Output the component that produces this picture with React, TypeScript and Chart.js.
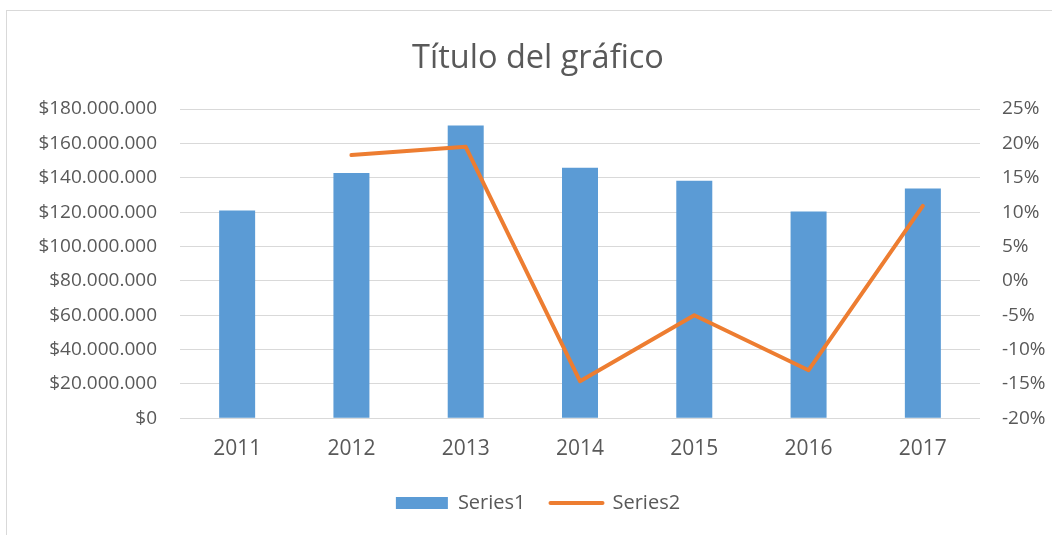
import React, { useEffect, useRef } from "react";
import { Chart, registerables } from "chart.js";

Chart.register(...registerables);

const categories = ["2011", "2012", "2013", "2014", "2015", "2016", "2017"];
const series1 = [121000000, 142700000, 170400000, 145800000, 138200000, 120300000, 133700000];
const series2 = [null, 18.3, 19.5, -14.6, -5.0, -13.0, 10.9];
const seriesNames = ["Series1", "Series2"];
const titleText = "Título del gráfico";

const BLUE = "#5B9BD5";
const ORANGE = "#ED7D31";
const TEXT = "#595959";
const GRID = "#D9D9D9";
const FONT = "'Open Sans', 'Noto Sans', sans-serif";

function money(v: number) {
  return "$" + Math.round(v).toString().replace(/\B(?=(\d{3})+(?!\d))/g, ".");
}

export default function App() {
  const ref = useRef<HTMLCanvasElement | null>(null);
  useEffect(() => {
    if (!ref.current) return;
    const chart = new Chart(ref.current, {
      data: {
        labels: categories,
        datasets: [
          {
            type: "line",
            label: seriesNames[1],
            data: series2,
            yAxisID: "y1",
            borderColor: ORANGE,
            backgroundColor: ORANGE,
            borderWidth: 4,
            pointRadius: 0,
            pointHoverRadius: 0,
            borderCapStyle: "round",
            borderJoinStyle: "round",
            tension: 0,
            spanGaps: false,
            order: 0,
          },
          {
            type: "bar",
            label: seriesNames[0],
            data: series1,
            yAxisID: "y",
            backgroundColor: BLUE,
            borderWidth: 0,
            categoryPercentage: 1,
            barPercentage: 0.315,
            order: 1,
          },
        ],
      } as any,
      options: {
        responsive: false,
        animation: false,
        layout: { padding: { left: 24, right: 0, top: 0, bottom: 0 } },
        plugins: {
          tooltip: { enabled: false },
          title: {
            display: true,
            text: titleText,
            color: TEXT,
            font: { family: FONT, size: 32.5, weight: "normal" },
            padding: { top: 39, bottom: 31 },
          },
          legend: {
            position: "bottom",
            labels: {
              color: TEXT,
              font: { family: FONT, size: 20 },
              usePointStyle: true,
              pointStyleWidth: 52,
              boxHeight: 12,
              padding: 25,
              generateLabels: () => [
                {
                  text: seriesNames[0],
                  fillStyle: BLUE,
                  strokeStyle: BLUE,
                  lineWidth: 0,
                  pointStyle: "rect",
                  fontColor: TEXT,
                  datasetIndex: 1,
                  hidden: false,
                },
                {
                  text: seriesNames[1],
                  fillStyle: ORANGE,
                  strokeStyle: ORANGE,
                  lineWidth: 4,
                  lineCap: "round",
                  pointStyle: "line",
                  fontColor: TEXT,
                  datasetIndex: 0,
                  hidden: false,
                },
              ] as any,
            },
          },
        },
        scales: {
          x: {
            grid: { display: false, drawTicks: false },
            border: { display: false },
            ticks: { color: TEXT, font: { family: FONT, size: 21 }, padding: 18 },
            afterFit: (s: any) => {
              s.height = 49.7;
            },
          },
          y: {
            position: "left",
            min: 0,
            max: 180000000,
            grid: { color: GRID, lineWidth: 1, drawTicks: false },
            border: { display: false },
            ticks: {
              stepSize: 20000000,
              color: TEXT,
              font: { family: FONT, size: 19 },
              padding: 23,
              callback: (v: any) => money(Number(v)),
            },
            afterFit: (s: any) => {
              s.width = 156;
            },
          },
          y1: {
            position: "right",
            min: -20,
            max: 25,
            grid: { display: false, drawTicks: false },
            border: { display: false },
            ticks: {
              stepSize: 5,
              color: TEXT,
              font: { family: FONT, size: 19 },
              padding: 22,
              callback: (v: any) => `${v}%`,
            },
            afterFit: (s: any) => {
              s.width = 72;
            },
          },
        },
      } as any,
    });
    return () => chart.destroy();
  }, []);

  return (
    <div
      style={{
        position: "fixed",
        left: 0,
        top: 0,
        width: 1052,
        height: 535,
        overflow: "hidden",
        background: "#fff",
      }}
    >
      <div
        style={{
          position: "absolute",
          left: 6,
          top: 10,
          width: 1100,
          height: 600,
          border: `1px solid ${GRID}`,
        }}
      />
      <canvas
        ref={ref}
        width={1052}
        height={523}
        style={{ position: "absolute", left: 0, top: 0, width: 1052, height: 523 }}
      />
    </div>
  );
}
